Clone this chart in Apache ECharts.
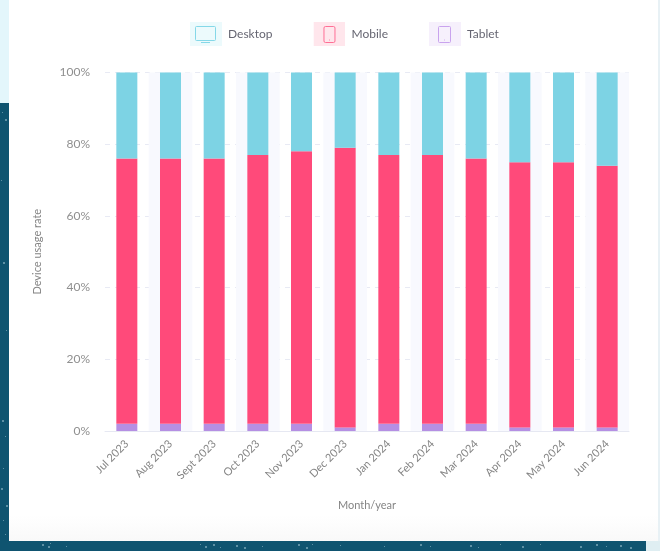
<!DOCTYPE html>
<html><head><meta charset="utf-8">
<style>html,body{margin:0;padding:0;background:#fff}#c{width:660px;height:551px}</style>
<script src="https://cdn.jsdelivr.net/npm/echarts@6/dist/echarts.min.js"></script>
</head><body><div id="c"></div>
<script>
const categories = ['Jul 2023','Aug 2023','Sept 2023','Oct 2023','Nov 2023','Dec 2023','Jan 2024','Feb 2024','Mar 2024','Apr 2024','May 2024','Jun 2024'];
const desktop = [24,24,24,23,22,21,23,23,24,25,25,26];
const mobile  = [74,74,74,75,76,78,75,75,74,74,74,73];
const tablet  = [2,2,2,2,2,1,2,2,2,1,1,1];
const FONT = 'Lato';

function svgIcon(bg, stroke, body){
  const s = `<svg xmlns="http://www.w3.org/2000/svg" width="96" height="72" viewBox="0 0 32 24"><rect width="32" height="24" fill="${bg}"/><g fill="none" stroke="${stroke}" stroke-width="1">${body}</g></svg>`;
  return 'image://data:image/svg+xml;charset=utf-8,' + encodeURIComponent(s);
}
const iconDesktop = svgIcon('#ecfafc','#85d8e8','<rect x="5.5" y="4.5" width="20" height="14" rx="1"/><path d="M11 20.5h9"/>');
const iconMobile  = svgIcon('#ffe6ec','#ff6f95','<rect x="10.5" y="4.5" width="11" height="16" rx="1.5"/><path d="M15.6 18h.8"/>');
const iconTablet  = svgIcon('#f6f0fc','#c9a3ee','<rect x="9.5" y="4.5" width="12" height="16" rx="1"/><path d="M15.2 18h.8"/>');

const rect = (x,y,w,h,fill)=>({type:'rect',silent:true,z:-10,shape:{x,y,width:w,height:h},style:{fill}});
const speck = (x,y,s)=>({type:'rect',silent:true,z:-9,shape:{x,y,width:s,height:s},style:{fill:'rgba(190,220,230,0.45)'}});
const specks = [[42,544,2],[48,546,2],[50,543,1],[66,546,1],[200,544,1],[205,546,2],[213,544,2],[220,547,1],[236,545,2],[244,547,2],[262,546,1],[298,544,2],[306,547,2],[312,544,1],[340,545,1],[384,546,1],[420,544,2],[430,546,1],[470,545,2],[478,547,1],[500,544,1],[522,546,2],[540,544,1],[580,546,2],[596,544,2],[606,546,1],[620,545,2],[630,547,2],
 [2,112,1],[5,119,2],[1,180,1],[3,262,2],[6,330,1],[2,420,2],[5,436,1],[3,468,1],[1,488,2],[6,505,2],[3,520,1],[5,534,1]];

const chart = echarts.init(document.getElementById('c'), null, {renderer:'canvas'});
chart.setOption({
  animation:false,
  textStyle:{fontFamily:FONT},
  graphic:[
    rect(0,0,9,103,'#e3f6fb'),
    rect(0,103,9,448,'#0f5470'),
    rect(9,541,637,10,'#0f5470'),
    rect(646,541,14,10,'#dfeef2'),
    rect(658,0,2,541,'#e8f1f5'),
    {type:'rect',silent:true,z:-10,shape:{x:9,y:515,width:649,height:26},style:{fill:{type:'linear',x:0,y:0,x2:0,y2:1,colorStops:[{offset:0,color:'#ffffff'},{offset:1,color:'#f9f9f9'}]}}},
    ...specks.map(p=>speck(p[0],p[1],p[2]))
  ],
  legend:{
    left:185,top:17,itemWidth:32,itemHeight:24,itemGap:41,
    textStyle:{color:'#666672',fontSize:12,fontFamily:FONT,padding:[0,0,0,1]},
    data:[{name:'Desktop',icon:iconDesktop},{name:'Mobile',icon:iconMobile},{name:'Tablet',icon:iconTablet}]
  },
  grid:{left:105,right:31,top:72.5,bottom:120},
  xAxis:{
    type:'category',data:categories,
    name:'Month/year',nameLocation:'middle',nameGap:69,
    nameTextStyle:{color:'#858585',fontSize:11,fontFamily:FONT},
    axisLine:{show:true,lineStyle:{color:'#e6e8f2',width:1}},
    axisTick:{show:false},
    axisLabel:{rotate:45,color:'#858585',fontSize:11,margin:11,interval:0,fontFamily:FONT},
    splitArea:{show:true,interval:0,areaStyle:{color:['rgba(255,255,255,0)','#f8f9fe']}}
  },
  yAxis:{
    type:'value',min:0,max:100,interval:20,
    name:'Device usage rate',nameLocation:'middle',nameGap:62,
    nameTextStyle:{color:'#858585',fontSize:11,fontFamily:FONT},
    axisLine:{show:false},axisTick:{show:false},
    axisLabel:{color:'#8f8f8f',fontSize:12,margin:15,formatter:'{value}%',fontFamily:FONT},
    splitLine:{show:true,lineStyle:{color:'#e8eaf4',type:[5,5],width:1}}
  },
  series:[
    {name:'Tablet',type:'bar',stack:'u',barWidth:21,data:tablet,itemStyle:{color:'#b58fe3'}},
    {name:'Mobile',type:'bar',stack:'u',barWidth:21,data:mobile,itemStyle:{color:'#ff4a7a'}},
    {name:'Desktop',type:'bar',stack:'u',barWidth:21,data:desktop,itemStyle:{color:'#7dd3e4'}}
  ]
});
</script></body></html>
